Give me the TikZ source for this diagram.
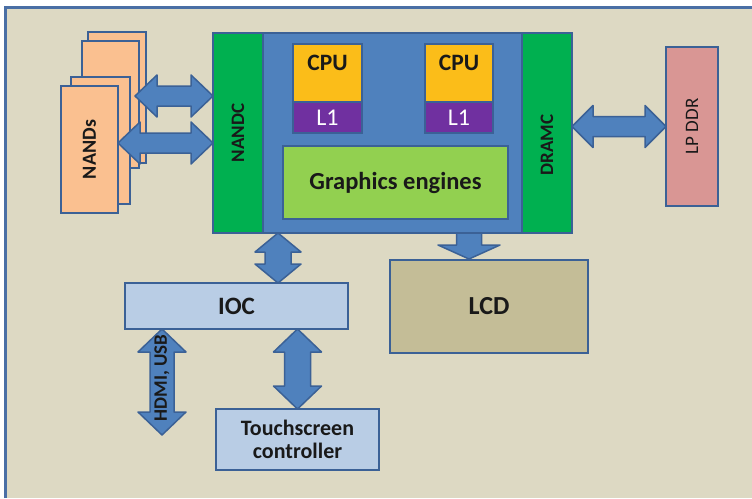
\documentclass[tikz,border=0pt]{standalone}
\usepackage{fontspec}
\setmainfont{Carlito}
\usepackage{graphicx}
\usetikzlibrary{calc,positioning}

\definecolor{panelbeige}{HTML}{DDD9C3}
\definecolor{paneledge}{HTML}{4A6FA5}
\definecolor{edgeblue}{HTML}{3B6196}
\definecolor{socblue}{HTML}{4F81BD}
\definecolor{ctrlgreen}{HTML}{00B050}
\definecolor{cpuorange}{HTML}{FBBD19}
\definecolor{cachepurple}{HTML}{7030A0}
\definecolor{gfxgreen}{HTML}{92D050}
\definecolor{ddrpink}{HTML}{D99694}
\definecolor{nandpeach}{HTML}{FAC090}
\definecolor{iolight}{HTML}{B9CDE5}
\definecolor{lcdkhaki}{HTML}{C4BD97}

\begin{document}
\begin{tikzpicture}[
    x=1pt, y=-1pt,
    block/.style={draw=edgeblue, line width=2pt, inner sep=0pt, outer sep=0pt, align=center,
        text=black!90, font=\bfseries\fontsize{20}{23}\selectfont},
    nandcard/.style={block, fill=nandpeach, minimum width=58pt, minimum height=127pt},
    ctrlbox/.style={block, fill=ctrlgreen, minimum width=50pt, minimum height=200pt, font=\bfseries\fontsize{19}{22}\selectfont},
    cpubox/.style={block, fill=cpuorange, minimum width=69pt, minimum height=58pt, text depth=20pt, font=\bfseries\fontsize{23.5}{25}\selectfont},
    cachebox/.style={block, fill=cachepurple, minimum width=69pt, minimum height=31pt, text=white, font=\fontsize{24}{26}\selectfont},
    iobox/.style={block, fill=iolight},
    blockarrow/.style={fill=socblue, draw=edgeblue, line width=1.5pt, line join=round},
    dblarrow/.style n args={3}{blockarrow, to path={
        (\tikztostart)
        -- ($(\tikztostart)!#1!(\tikztotarget)!#2!90:(\tikztotarget)$)
        -- ($(\tikztostart)!#1!(\tikztotarget)!#3!90:(\tikztotarget)$)
        -- ($(\tikztotarget)!#1!(\tikztostart)!#3!-90:(\tikztostart)$)
        -- ($(\tikztotarget)!#1!(\tikztostart)!#2!-90:(\tikztostart)$)
        -- (\tikztotarget)
        -- ($(\tikztotarget)!#1!(\tikztostart)!#2!90:(\tikztostart)$)
        -- ($(\tikztotarget)!#1!(\tikztostart)!#3!90:(\tikztostart)$)
        -- ($(\tikztostart)!#1!(\tikztotarget)!#3!-90:(\tikztotarget)$)
        -- ($(\tikztostart)!#1!(\tikztotarget)!#2!-90:(\tikztotarget)$)
        -- cycle}},
    sglarrow/.style n args={3}{blockarrow, to path={
        ($(\tikztostart)!#3!90:(\tikztotarget)$)
        -- ($(\tikztotarget)!#1!(\tikztostart)!#3!-90:(\tikztostart)$)
        -- ($(\tikztotarget)!#1!(\tikztostart)!#2!-90:(\tikztostart)$)
        -- (\tikztotarget)
        -- ($(\tikztotarget)!#1!(\tikztostart)!#2!90:(\tikztostart)$)
        -- ($(\tikztotarget)!#1!(\tikztostart)!#3!90:(\tikztostart)$)
        -- ($(\tikztostart)!#3!-90:(\tikztotarget)$)
        -- cycle}}
]
    \useasboundingbox (0,0) rectangle (752,498);
    \fill[white] (0,0) rectangle (752,498);
    \fill[panelbeige] (5.5,7) rectangle (752,498);
    \draw[paneledge, line width=3pt] (5.5,498) -- (5.5,7) -- (752,7);

    % NAND stack
    \node[nandcard, minimum height=131pt] (nandA) at (117,97.5) {};
    \node[nandcard, minimum width=57pt] (nandB) at (110.5,104.5) {};
    \node[nandcard, minimum width=59pt] (nandC) at (100.5,140.5) {};
    \node[nandcard, minimum width=57pt] (nands) at (89.5,149.5) {\rotatebox{90}{NANDs}};

    % SoC
    \node[block, fill=socblue, minimum width=359pt, minimum height=200pt] (soc) at (392.5,133) {};
    \node[ctrlbox] (nandc) at (238,133) {\rotatebox{90}{NANDC}};
    \node[ctrlbox] (dramc) at (547,133) {};
    \node[font=\bfseries\fontsize{19}{22}\selectfont, text=black!90, rotate=90] (dramctext) at (547,145) {DRAMC};
    \node[cpubox] (cpuA) at (327.5,73) {CPU};
    \node[cachebox, below=0pt of cpuA] (cacheA) {L1};
    \node[cpubox, minimum width=68pt] (cpuB) at (459,73) {CPU};
    \node[cachebox, minimum width=68pt, below=0pt of cpuB] (cacheB) {L1};
    \node[block, fill=gfxgreen, minimum width=225pt, minimum height=73pt,
        font=\bfseries\fontsize{24.5}{26}\selectfont] (gfx) at (395.5,182.5) {Graphics engines};

    % peripherals
    \node[block, fill=ddrpink, minimum width=52pt, minimum height=159pt,
        font=\fontsize{19}{22}\selectfont] (lpddr) at (692,126.5) {\rotatebox{90}{LP DDR}};
    \node[iobox, minimum width=223pt, minimum height=46pt, font=\bfseries\fontsize{25}{27}\selectfont] (ioc) at (236.5,306) {IOC};
    \node[iobox, minimum width=163pt, minimum height=61pt, font=\bfseries\fontsize{22}{23.5}\selectfont] (touch) at (297.5,439.5) {Touchscreen\\controller};
    \node[block, fill=lcdkhaki, minimum width=198pt, minimum height=93pt,
        font=\bfseries\fontsize{26}{28}\selectfont] (lcd) at (489,306.5) {LCD};

    % block arrows
    \coordinate (nandup) at (135,96);
    \coordinate (nandlo) at (118,143);
    \coordinate (iocport) at (278,283);
    \coordinate (hdmiend) at (162,435);
    \coordinate (lcdport) at (469,259);
    \draw[dblarrow={22pt}{21pt}{10pt}] (nandup) to (nandup -| nandc.west);
    \draw[dblarrow={22pt}{21pt}{10pt}] (nandlo) to (nandlo -| nandc.west);
    \draw[dblarrow={21pt}{21pt}{10pt}] (lpddr.west -| dramc.east) to (lpddr.west);
    \draw[dblarrow={19pt}{23pt}{13pt}] (iocport |- soc.south) to (iocport);
    \draw[dblarrow={23pt}{24pt}{13pt}] (touch.north |- ioc.south) to (touch.north);
    \draw[dblarrow={23pt}{24pt}{12pt}] (hdmiend |- ioc.south) to (hdmiend);
    \draw[sglarrow={14pt}{31pt}{12.5pt}] (lcdport |- soc.south) to (lcdport);
    \node[font=\bfseries\fontsize{19}{22}\selectfont, text=black!90, rotate=90] (hdmilbl) at (162,378) {HDMI, USB};
\end{tikzpicture}
\end{document}
